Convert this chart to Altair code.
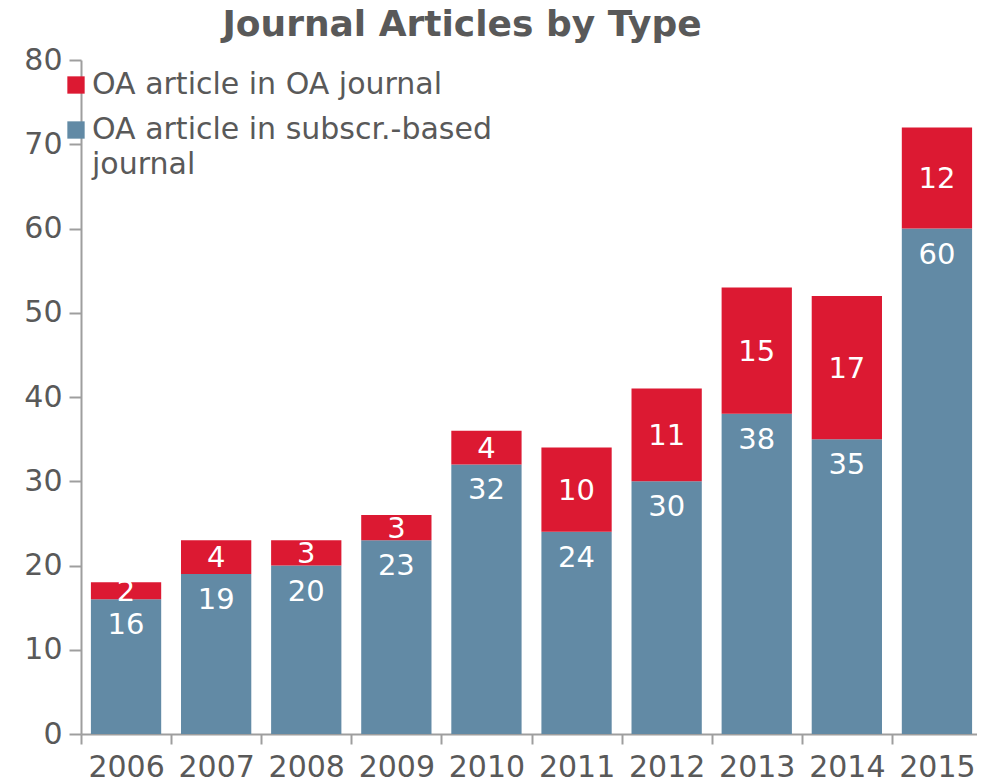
import altair as alt
import pandas as pd

years = ["2006", "2007", "2008", "2009", "2010", "2011", "2012", "2013", "2014", "2015"]
subscr_based = [16, 19, 20, 23, 32, 24, 30, 38, 35, 60]
oa_journal = [2, 4, 3, 3, 4, 10, 11, 15, 17, 12]

series_names = ["OA article in OA journal", "OA article in subscr.-based journal"]
series_colors = ["#dc1932", "#628aa5"]

rows = []
for y, s, o in zip(years, subscr_based, oa_journal):
    rows.append({"year": y, "series": series_names[1], "value": s, "start": 0, "end": s,
                 "label_pos": s})
    rows.append({"year": y, "series": series_names[0], "value": o, "start": s, "end": s + o,
                 "label_pos": s + o / 2})
df = pd.DataFrame(rows)

FONT = "DejaVu Sans"
GREY = "#595959"
AXIS_GREY = "#9e9e9e"

PLOT_W = 896
X_RANGE = 901

x_enc = alt.X("year:O", title=None, sort=years,
              scale=alt.Scale(paddingInner=0, paddingOuter=0, range=[0, X_RANGE]),
              axis=alt.Axis(labelAngle=0, tickBand="extent", labelFontSize=30, labelColor=GREY,
                            labelFont=FONT, domainColor=AXIS_GREY, tickColor=AXIS_GREY,
                            tickSize=10, labelPadding=8, labelOverlap=False, domainWidth=2,
                            tickWidth=2))

bars = alt.Chart(df).mark_bar(width={"band": 0.78}).encode(
    x=x_enc,
    y=alt.Y("start:Q", title=None,
            scale=alt.Scale(domain=[0, 80]),
            axis=alt.Axis(values=list(range(0, 81, 10)), grid=False, labelFontSize=30,
                          labelColor=GREY, labelFont=FONT, domainColor=AXIS_GREY,
                          tickColor=AXIS_GREY, tickSize=12, labelPadding=7,
                          domainWidth=2, tickWidth=2)),
    y2="end:Q",
    color=alt.Color("series:N", scale=alt.Scale(domain=series_names, range=series_colors),
                    legend=alt.Legend(title=None, orient="none", legendX=-20, legendY=10,
                                      symbolType="square", symbolSize=300,
                                      symbolStrokeWidth=0, labelFontSize=30, labelColor=GREY,
                                      labelFont=FONT, labelLimit=600, labelOffset=1,
                                      rowPadding=15, padding=0,
                                      labelExpr="datum.label == 'OA article in subscr.-based journal' ? ['OA article in subscr.-based', 'journal'] : datum.label")),
)

blue_labels = alt.Chart(df).transform_filter(
    alt.datum.series == series_names[1]
).mark_text(color="white", fontSize=29, font=FONT, baseline="middle", dy=26).encode(
    x=alt.X("year:O", sort=years),
    y=alt.Y("label_pos:Q"),
    text="value:Q",
)

red_labels = alt.Chart(df).transform_filter(
    alt.datum.series == series_names[0]
).mark_text(color="white", fontSize=29, font=FONT, baseline="middle", dy=1).encode(
    x=alt.X("year:O", sort=years),
    y=alt.Y("label_pos:Q"),
    text="value:Q",
)

chart = alt.layer(bars, blue_labels, red_labels).properties(
    width=PLOT_W, height=674,
    title=alt.TitleParams("Journal Articles by Type", fontSize=36, font=FONT, fontWeight="bold",
                          color=GREY, anchor="middle", dx=-67, offset=1),
    autosize=alt.AutoSizeParams(type="none"),
    padding={"left": 73, "top": 52, "right": 0, "bottom": 50},
).configure(
    style={"guide-label": {"lineHeight": 35}}
).configure_view(stroke=None)

chart.save("out.html", embed_options={"renderer": "svg", "actions": False})
